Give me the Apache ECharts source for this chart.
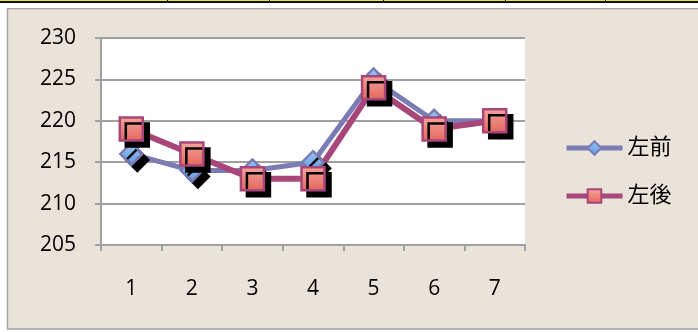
<!DOCTYPE html>
<html>
<head>
<meta charset="utf-8">
<script src="https://cdn.jsdelivr.net/npm/echarts@6/dist/echarts.min.js"></script>
<style>
  html, body { margin: 0; padding: 0; background: #ffffff; }
  #chart { width: 698px; height: 332px; }
</style>
</head>
<body>
<div id="chart"></div>
<script>
// Measurement rounds 1-7, front-left and rear-left readings
const categories = ['1', '2', '3', '4', '5', '6', '7'];
const frontLeft = [216, 214, 214, 215, 225, 220, 220];
const rearLeft = [219, 216, 213, 213, 224, 219, 220];
const seriesNames = ['左前', '左後'];
const yMin = 205, yMax = 230, yStep = 5;
// column dividers of the header strip above the chart
const headerDividers = [167, 269, 383, 505, 605];

const chart = echarts.init(document.getElementById('chart'), null, { renderer: 'canvas' });

const fontFamily = '"Open Sans", "Noto Sans CJK JP", sans-serif';
const markerShadow = { shadowColor: '#000', shadowBlur: 0, shadowOffsetX: 6, shadowOffsetY: 6 };

const headerGraphics = [
  { type: 'rect', shape: { x: 0, y: 0, width: 698, height: 1 }, style: { fill: '#e6e64c' }, silent: true },
  { type: 'rect', shape: { x: 0, y: 1, width: 698, height: 2 }, style: { fill: '#111' }, silent: true },
  { type: 'rect', shape: { x: 0, y: 3, width: 698, height: 5 }, style: { fill: '#ffffff' }, silent: true }
].concat(headerDividers.map(x => ({
  type: 'rect', shape: { x: x, y: 0, width: 1, height: 3 }, style: { fill: '#111' }, silent: true
})));

chart.setOption({
  backgroundColor: '#ffffff',
  animation: false,
  graphic: headerGraphics.concat([
    {
      type: 'rect', z: -10,
      shape: { x: 7.5, y: 8.5, width: 700, height: 320.5 },
      style: { fill: '#e9e3d9', stroke: '#a3a3a3', lineWidth: 1.5 },
      silent: true
    }
  ]),
  grid: {
    left: 101, right: 173, top: 38, bottom: 87,
    show: true, backgroundColor: '#ffffff', borderWidth: 0
  },
  legend: {
    orient: 'vertical',
    left: 564, top: 135,
    padding: 0,
    itemWidth: 56, itemHeight: 17, itemGap: 22,
    textStyle: { fontFamily: fontFamily, fontSize: 22, color: '#000', lineHeight: 26 },
    lineStyle: { width: 5 },
    itemStyle: { shadowColor: 'rgba(0,0,0,0)', shadowOffsetX: 0, shadowOffsetY: 0 },
    data: seriesNames
  },
  xAxis: {
    type: 'category',
    data: categories,
    boundaryGap: true,
    axisLine: { lineStyle: { color: '#a0a0a0', width: 2 } },
    axisTick: { show: true, length: 6, lineStyle: { color: '#a0a0a0', width: 2 } },
    axisLabel: { margin: 34, fontFamily: fontFamily, fontSize: 21, color: '#000' },
    splitLine: { show: false }
  },
  yAxis: {
    type: 'value',
    min: yMin, max: yMax, interval: yStep,
    axisLine: { show: true, lineStyle: { color: '#a0a0a0', width: 2 } },
    axisTick: { show: true, length: 6, lineStyle: { color: '#a0a0a0', width: 2 } },
    axisLabel: { margin: 25, fontFamily: fontFamily, fontSize: 21, color: '#000' },
    splitLine: { show: true, lineStyle: { color: '#a0a0a0', width: 2 } }
  },
  series: [
    {
      name: seriesNames[0],
      type: 'line',
      data: frontLeft,
      symbol: 'diamond',
      symbolSize: 22,
      lineStyle: { color: '#7a7cb3', width: 5 },
      itemStyle: Object.assign({
        color: new echarts.graphic.LinearGradient(0, 0, 0, 1, [
          { offset: 0, color: '#9cc6f4' },
          { offset: 1, color: '#5f98e2' }
        ]),
        borderColor: '#7a7cb3',
        borderWidth: 2.5
      }, markerShadow),
      emphasis: { disabled: true }
    },
    {
      name: seriesNames[1],
      type: 'line',
      data: rearLeft,
      symbol: 'rect',
      symbolSize: 23,
      lineStyle: { color: '#a8467a', width: 6 },
      itemStyle: Object.assign({
        color: new echarts.graphic.LinearGradient(0, 0, 0, 1, [
          { offset: 0, color: '#f7a69c' },
          { offset: 1, color: '#e2645a' }
        ]),
        borderColor: '#a8467a',
        borderWidth: 2.5
      }, markerShadow),
      emphasis: { disabled: true }
    }
  ]
});
</script>
</body>
</html>
